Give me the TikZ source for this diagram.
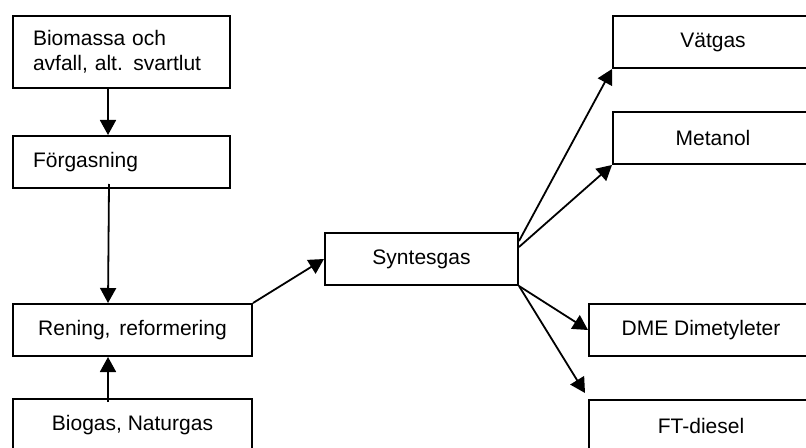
\documentclass[tikz,border=0pt]{standalone}
\usepackage{fontspec}
\setmainfont{Liberation Sans}
\usetikzlibrary{arrows.meta,calc}
\begin{document}
\begin{tikzpicture}[x=0.5pt,y=-0.5pt,
  box/.style={draw,line width=1pt,inner sep=0pt,minimum height=26pt,anchor=north west,
    font=\fontsize{10.5}{12.5}\selectfont},
  leftbox/.style={box,minimum width=108.5pt,text width=88.5pt,align=left},
  conn/.style={line width=0.9pt,-{Triangle[length=7.5pt,width=8pt]}}]
\useasboundingbox (0,0) rectangle (806,448);
\clip (0,0) rectangle (806,448);
\coordinate (ax) at (108,0);
\node[leftbox,minimum height=36pt] (bio) at (12,15) {Biomassa och\\avfall, alt. svartlut};
\node[leftbox] (forg) at (12,135) {Förgasning};
\node[box,minimum width=119.5pt] (ren) at (12,303) {Rening,\hspace{0.42em}reformering};
\node[box,minimum width=119.5pt] (bgas) at (12,398) {Biogas, Naturgas};
\node[box,minimum width=96.5pt] (syn) at (324,232) {Syntesgas};
\node[box,minimum width=100pt] (vat) at (612,15) {Vätgas};
\node[box,minimum width=100pt] (met) at (612,111) {Metanol};
\node[box,minimum width=112pt] (dme) at (588,303) {DME Dimetyleter};
\node[box,minimum width=112pt] (ft) at (588,399) {FT-diesel};
\draw[conn] (bio.south -| ax) -- (forg.north -| ax);
\draw[conn] ($(forg.south -| ax)+(1,-5)$) -- (ren.north -| ax);
\draw[conn] ($(bgas.north -| ax)+(0,4)$) -- (ren.south -| ax);
\draw[conn] (ren.north east) -- (syn.west);
\draw[conn] ($(syn.east)+(0,-18)$) -- (vat.south west);
\draw[conn] ($(syn.east)+(0,-12)$) -- (met.south west);
\draw[conn] (syn.south east) -- (dme.west);
\draw[conn] (syn.south east) -- ($(ft.north west)+(-3,-6)$);
\end{tikzpicture}
\end{document}
